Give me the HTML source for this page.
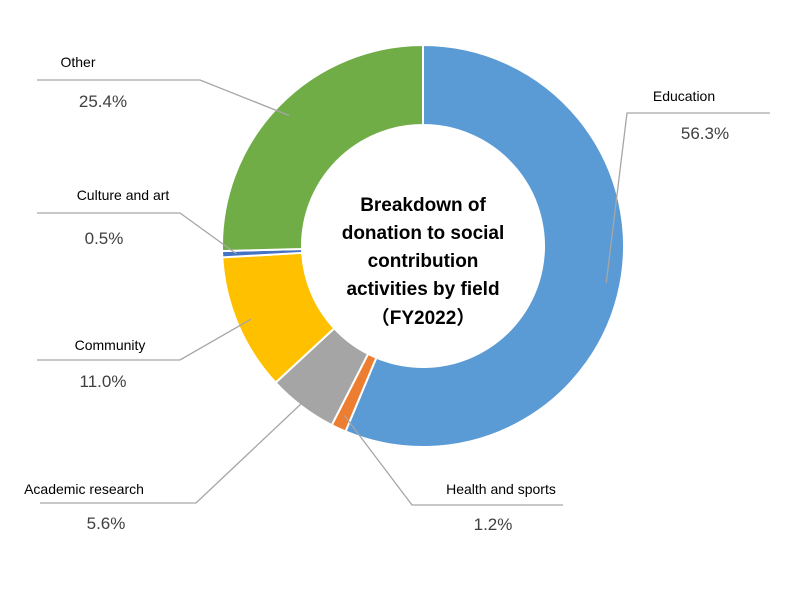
<!DOCTYPE html>
<html><head><meta charset="utf-8"><style>
body{margin:0;background:#fff;}
svg{display:block;font-family:"Liberation Sans","Noto Sans CJK JP",sans-serif;}
</style></head><body>
<svg id="chart" width="798" height="591">
<g id="slices"></g><g id="leaders"></g>
<g font-weight="bold" font-size="19" fill="#000" text-anchor="middle">
<text x="423" y="211">Breakdown of</text>
<text x="423" y="239">donation to social</text>
<text x="423" y="267">contribution</text>
<text x="423" y="295">activities by field</text>
<text x="423" y="324">（FY2022）</text>
</g>
</svg>
<script>
const categories=["Education","Health and sports","Academic research","Community","Culture and art","Other"];
const values=[56.3,1.2,5.6,11.0,0.5,25.4];
const labels=["56.3%","1.2%","5.6%","11.0%","0.5%","25.4%"];
const colors=["#5b9bd5","#ed7d31","#a5a5a5","#ffc000","#4472c4","#70ad47"];
const cx=423,cy=246,R=201,r=121;
const NS="http://www.w3.org/2000/svg";
const sl=document.getElementById('slices');
const ld=document.getElementById('leaders');
const total=values.reduce((a,b)=>a+b,0);
function pt(a,rad){return [cx+rad*Math.sin(a),cy-rad*Math.cos(a)];}
// label layout: [elbowX,elbowY,lineEndX,nameX,nameY,pctX,pctY,anchor]
const layout=[[627,113,770,684,101,705,139,"middle"],[412,505,563,501,494,493,530,"middle"],[196,503,40,84,494,106,529,"middle"],[180,360,37,110,350,103,387,"middle"],[180,213,37,123,200,104,244,"middle"],[200,80,37,78,67,103,107,"middle"]];
let acc=0;
values.forEach((v,i)=>{
 const a0=acc/total*2*Math.PI;acc+=v;const a1=acc/total*2*Math.PI;
 const large=(a1-a0)>Math.PI?1:0;
 const p0=pt(a0,R),p1=pt(a1,R),q1=pt(a1,r),q0=pt(a0,r);
 const p=document.createElementNS(NS,'path');
 p.setAttribute('d',`M${p0[0]},${p0[1]}A${R},${R} 0 ${large} 1 ${p1[0]},${p1[1]}L${q1[0]},${q1[1]}A${r},${r} 0 ${large} 0 ${q0[0]},${q0[1]}Z`);
 p.setAttribute('fill',colors[i]);p.setAttribute('stroke','#fff');p.setAttribute('stroke-width','2');
 
 
 sl.appendChild(p);
 const am=(a0+a1)/2,s=pt(am,R*0.93),L=layout[i];
 const line=document.createElementNS(NS,'polyline');
 line.setAttribute('points',`${s[0]},${s[1]} ${L[0]},${L[1]} ${L[2]},${L[1]}`);
 line.setAttribute('fill','none');line.setAttribute('stroke','#a6a6a6');line.setAttribute('stroke-width','1.3');
 
 
 ld.appendChild(line);
 const t=document.createElementNS(NS,'text');
 t.setAttribute('x',L[3]);t.setAttribute('y',L[4]);t.setAttribute('font-size','14');t.setAttribute('fill','#000');t.setAttribute('text-anchor',L[7]);
 t.textContent=categories[i];
 
 
 ld.appendChild(t);
 const t2=document.createElementNS(NS,'text');
 t2.setAttribute('x',L[5]);t2.setAttribute('y',L[6]);t2.setAttribute('font-size','17');t2.setAttribute('fill','#404040');t2.setAttribute('text-anchor',L[7]);
 t2.textContent=labels[i];
 
 
 ld.appendChild(t2);
});
</script>
</body></html>
